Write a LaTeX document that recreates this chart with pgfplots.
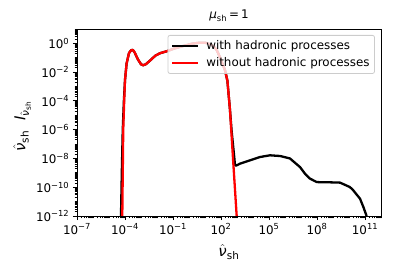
\documentclass[border=0pt]{standalone}
\usepackage{fontspec}
\setmainfont{DejaVu Sans}
\usepackage{pgfplots}
\pgfplotsset{compat=1.18}

\def\minorxlist{}
\foreach \e in {-7,...,11}{\foreach \m in {1,...,9}{\xdef\minorxlist{\minorxlist\m e\e,}}}
\def\minorylist{}
\foreach \e in {-12,...,0}{\foreach \m in {1,...,9}{\xdef\minorylist{\minorylist\m e\e,}}}

\newcommand{\nuhat}{\ensuremath{\hat{\mbox{\itshape ν}}}}

\begin{document}
\begin{tikzpicture}
\useasboundingbox (0,0) rectangle (393pt,275pt);
\begin{axis}[
  at={(77pt,59pt)}, anchor=south west,
  scale only axis, width=304pt, height=187pt,
  xmode=log, ymode=log,
  xmin=1e-7, xmax=1e12, ymin=1e-12, ymax=10,
  axis line style={line width=0.96pt},
  tick align=outside, tick pos=left,
  major tick length=4.2pt, minor tick length=2.4pt,
  every tick/.style={black},
  major tick style={line width=0.96pt},
  minor tick style={line width=0.7pt},
  xtick={1e-7,1e-4,1e-1,1e2,1e5,1e8,1e11},
  xticklabels={10\textsuperscript{−7},10\textsuperscript{−4},10\textsuperscript{−1},10\textsuperscript{2},10\textsuperscript{5},10\textsuperscript{8},10\textsuperscript{11}},
  ytick={1e-12,1e-10,1e-8,1e-6,1e-4,1e-2,1},
  yticklabels={10\textsuperscript{−12},10\textsuperscript{−10},10\textsuperscript{−8},10\textsuperscript{−6},10\textsuperscript{−4},10\textsuperscript{−2},10\textsuperscript{0}},
  minor xtick/.expanded={\minorxlist 1e12},
  minor ytick/.expanded={\minorylist 1e1},
  tick label style={font=\fontsize{11.9}{13}\selectfont},
  xlabel={\nuhat\textsubscript{sh}},
  ylabel={\nuhat\textsubscript{sh}\ \ {\itshape I}\textsubscript{\nuhat\textsubscript{sh}}},
  label style={font=\fontsize{15}{17}\selectfont},
  xlabel style={at={(axis description cs:0.5,-0.195)}, anchor=center},
  ylabel style={at={(axis description cs:-0.18,0.48)}, anchor=center, rotate=0},
  title={{\itshape μ}\textsubscript{sh}\,=\,1},
  title style={at={(axis description cs:0.5,1.038)}, anchor=center, font=\fontsize{11.9}{13}\selectfont},
  legend style={at={(0.98,0.968)}, anchor=north east, draw=black!20, line width=0.8pt,
    rounded corners=2pt, fill=white, fill opacity=0.8, text opacity=1,
    font=\fontsize{11.9}{14}\selectfont, inner xsep=3pt, inner ysep=3pt, row sep=3pt,
    /tikz/every odd column/.append style={column sep=5pt}},
  legend cell align=left,
  legend image code/.code={\draw[#1] (0pt,0pt) -- (26pt,0pt);},
]
\addplot[black, line width=2.3pt, line join=round] coordinates {
(5.62e-5,1e-12) (6.31e-5,1e-9) (7.24e-5,1e-6) (8.51e-5,1e-4)
(1e-4,2.82e-3) (1.26e-4,3.98e-2) (1.78e-4,0.214) (2.40e-4,0.331) (3.02e-4,0.355)
(3.98e-4,0.240) (6.31e-4,7.94e-2) (1e-3,3.55e-2) (1.38e-3,3.02e-2) (2.0e-3,3.55e-2)
(3.63e-3,6.31e-2) (7.94e-3,0.141) (1.58e-2,0.209) (3.98e-2,0.282) (0.126,0.447)
(0.437,0.661) (1.585,0.955) (4.90,1.122) (10,1.122) (20.4,0.891) (35.5,0.603)
(53.7,0.347) (89.1,0.1) (131.8,3.16e-2) (177.8,1.38e-2) (251.2,2.51e-3) (363.1,2.51e-5)
(457.1,9.12e-7) (631,2.51e-8) (750,3.55e-9) (871,3.16e-9) (1549,4.37e-9) (6457,7.41e-9)
(27540,1.26e-8) (1.148e5,1.66e-8) (4.90e5,1.48e-8) (2.04e6,1e-8) (8.71e6,2.51e-9)
(1.78e7,8.71e-10) (3.63e7,3.98e-10) (9.55e7,2.29e-10) (2.51e8,2.19e-10) (6.46e8,2.19e-10)
(2.75e9,2.09e-10) (1.148e10,1.02e-10) (1.86e10,6.03e-11) (4.90e10,1.58e-11)
(7.94e10,4.17e-12) (1.26e11,1e-12)
};
\addlegendentry{with hadronic processes}
\addplot[red, line width=2.3pt, line join=round] coordinates {
(6.76e-5,1e-12) (7.24e-5,1e-9) (7.76e-5,1e-6) (8.91e-5,1e-4)
(1e-4,2.82e-3) (1.26e-4,3.98e-2) (1.78e-4,0.214) (2.40e-4,0.331) (3.02e-4,0.355)
(3.98e-4,0.240) (6.31e-4,7.94e-2) (1e-3,3.55e-2) (1.38e-3,3.02e-2) (2.0e-3,3.55e-2)
(3.63e-3,6.31e-2) (7.94e-3,0.141) (1.58e-2,0.209) (3.98e-2,0.282) (0.126,0.447)
(0.437,0.661) (1.585,0.955) (4.90,1.122) (10,1.122) (20.4,0.891) (35.5,0.603)
(53.7,0.347) (89.1,0.1) (131.8,3.16e-2) (177.8,1.38e-2) (251.2,2.51e-3) (363.1,2.51e-5)
(588.8,4.57e-9) (955,1e-12)
};
\addlegendentry{without hadronic processes}
\end{axis}
\end{tikzpicture}
\end{document}
